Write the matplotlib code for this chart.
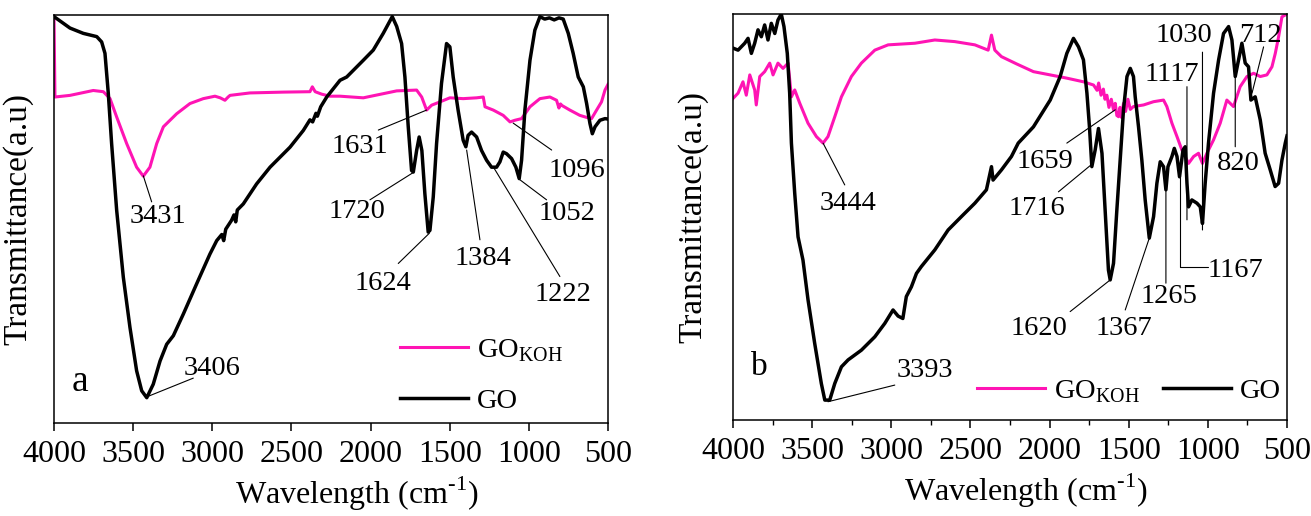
import matplotlib
matplotlib.use("Agg")
import matplotlib.pyplot as plt
from matplotlib.ticker import MultipleLocator

plt.rcParams['font.family'] = ['Liberation Serif', 'DejaVu Serif']
plt.rcParams['mathtext.fontset'] = 'custom'
plt.rcParams['mathtext.rm'] = 'Liberation Serif'

PINK = '#ff14b4'

# ---- panel a ----
go_a_wn = [4000, 3899, 3815, 3730, 3699, 3678, 3657, 3636, 3604, 3562, 3520, 3478, 3446, 3414,
           3373, 3330, 3288, 3246, 3183, 3099, 3015, 2972, 2955, 2940, 2928, 2915, 2878, 2863,
           2852, 2842, 2804, 2720, 2635, 2509, 2425, 2383, 2366, 2345, 2336, 2315, 2277, 2193,
           2151, 2046, 1983, 1920, 1863, 1835, 1804, 1783, 1762, 1741, 1730, 1709, 1693, 1676,
           1657, 1636, 1625, 1604, 1583, 1552, 1520, 1499, 1478, 1447, 1415, 1398, 1384, 1362,
           1330, 1299, 1267, 1236, 1204, 1183, 1162, 1141, 1109, 1082, 1061, 1046, 1025, 993,
           962, 930, 900, 870, 840, 810, 783, 751, 720, 688, 656, 635, 614, 599, 582, 551, 519, 500]
go_a_t = [0.996, 0.968, 0.955, 0.947, 0.934, 0.906, 0.808, 0.685, 0.521, 0.357, 0.234, 0.128, 0.079, 0.062,
          0.095, 0.152, 0.193, 0.214, 0.267, 0.341, 0.414, 0.447, 0.455, 0.462, 0.447, 0.475, 0.497, 0.510,
          0.493, 0.522, 0.537, 0.586, 0.627, 0.676, 0.717, 0.743, 0.738, 0.759, 0.752, 0.775, 0.799, 0.840,
          0.848, 0.889, 0.914, 0.955, 0.996, 0.972, 0.930, 0.848, 0.726, 0.619, 0.615, 0.668, 0.701, 0.668,
          0.562, 0.468, 0.472, 0.554, 0.685, 0.832, 0.930, 0.922, 0.848, 0.767, 0.693, 0.677, 0.705, 0.713,
          0.701, 0.668, 0.644, 0.627, 0.627, 0.640, 0.664, 0.660, 0.648, 0.627, 0.599, 0.644, 0.767, 0.889,
          0.963, 0.996, 0.990, 0.993, 0.988, 0.993, 0.990, 0.955, 0.906, 0.848, 0.824, 0.783, 0.734, 0.709,
          0.726, 0.742, 0.746, 0.745]

koh_a_wn = [4000, 3994, 3899, 3752, 3688, 3646, 3604, 3541, 3478, 3436, 3394, 3351, 3309, 3225, 3141,
            3057, 2983, 2950, 2920, 2900, 2888, 2762, 2551, 2383, 2368, 2350, 2309, 2257, 2193, 2046,
            1835, 1709, 1677, 1646, 1614, 1562, 1499, 1415, 1330, 1288, 1277, 1225, 1162, 1119, 1088,
            1046, 993, 930, 867, 825, 810, 800, 790, 741, 678, 635, 604, 572, 541, 519, 500]
koh_a_t = [0.996, 0.799, 0.803, 0.815, 0.812, 0.795, 0.750, 0.685, 0.627, 0.605, 0.627, 0.685, 0.726, 0.758, 0.783,
           0.795, 0.801, 0.797, 0.791, 0.799, 0.803, 0.809, 0.811, 0.812, 0.824, 0.812, 0.806, 0.801, 0.801, 0.797,
           0.814, 0.816, 0.799, 0.767, 0.779, 0.787, 0.797, 0.795, 0.797, 0.799, 0.775, 0.767, 0.754, 0.738, 0.742,
           0.746, 0.775, 0.795, 0.799, 0.791, 0.772, 0.782, 0.778, 0.767, 0.754, 0.749, 0.746, 0.767, 0.787, 0.816, 0.830]

# label, peak (wn, T), leader end (wn, T), text centre (wn, T)
labels_a = [
    ('3431', (3436, 0.606), (3383, 0.542), (3341, 0.506)),
    ('3406', (3414, 0.064), (3120, 0.110), (3004, 0.134)),
    ('1631', (1646, 0.767), (1951, 0.718), (2067, 0.677)),
    ('1720', (1734, 0.613), (2004, 0.547), (2088, 0.518)),
    ('1624', (1629, 0.465), (1825, 0.391), (1920, 0.342)),
    ('1384', (1393, 0.669), (1309, 0.449), (1288, 0.404)),
    ('1222', (1219, 0.624), (804, 0.359), (783, 0.314)),
    ('1052', (1056, 0.596), (888, 0.547), (761, 0.514)),
    ('1096', (1099, 0.735), (856, 0.669), (698, 0.620)),
]

# ---- panel b ----
go_b_wn = [4000, 3968, 3926, 3905, 3884, 3863, 3842, 3821, 3800, 3779, 3758, 3736, 3716, 3695, 3678,
           3657, 3642, 3631, 3610, 3589, 3558, 3526, 3484, 3442, 3420, 3389, 3357, 3315, 3273, 3189,
           3104, 3041, 2989, 2957, 2927, 2905, 2873, 2841, 2810, 2725, 2641, 2557, 2472, 2399, 2367,
           2357, 2304, 2241, 2198, 2102, 1996, 1933, 1891, 1849, 1817, 1786, 1764, 1748, 1733, 1712,
           1691, 1669, 1649, 1628, 1617, 1596, 1575, 1554, 1533, 1511, 1490, 1470, 1459, 1438, 1417,
           1396, 1370, 1343, 1322, 1301, 1280, 1265, 1252, 1227, 1212, 1195, 1179, 1157, 1143, 1132,
           1122, 1101, 1069, 1048, 1034, 1017, 996, 964, 932, 901, 869, 848, 827, 806, 785, 764, 743,
           728, 701, 669, 638, 606, 575, 553, 532, 511, 500]
go_b_t = [0.916, 0.911, 0.928, 0.940, 0.903, 0.928, 0.961, 0.944, 0.973, 0.936, 0.977, 0.952, 0.985, 1.000, 0.969,
          0.903, 0.805, 0.682, 0.558, 0.451, 0.394, 0.296, 0.189, 0.090, 0.049, 0.049, 0.090, 0.131, 0.148, 0.172,
          0.205, 0.238, 0.271, 0.256, 0.250, 0.304, 0.328, 0.361, 0.378, 0.419, 0.468, 0.501, 0.534, 0.567, 0.624,
          0.591, 0.616, 0.649, 0.682, 0.722, 0.788, 0.846, 0.903, 0.940, 0.919, 0.887, 0.805, 0.722, 0.624, 0.665,
          0.718, 0.657, 0.517, 0.369, 0.345, 0.386, 0.517, 0.640, 0.764, 0.846, 0.866, 0.846, 0.796, 0.722, 0.640,
          0.542, 0.448, 0.501, 0.583, 0.636, 0.624, 0.567, 0.624, 0.649, 0.669, 0.649, 0.599, 0.665, 0.673, 0.583,
          0.525, 0.542, 0.534, 0.525, 0.484, 0.583, 0.682, 0.805, 0.887, 0.952, 0.969, 0.936, 0.846, 0.887, 0.928,
          0.879, 0.870, 0.788, 0.796, 0.739, 0.657, 0.616, 0.575, 0.583, 0.640, 0.682, 0.700]

koh_b_wn = [4000, 3968, 3937, 3916, 3894, 3863, 3853, 3831, 3800, 3768, 3747, 3716, 3684, 3652, 3631,
            3610, 3578, 3526, 3473, 3431, 3400, 3357, 3315, 3252, 3189, 3104, 3020, 2851, 2725, 2599,
            2472, 2388, 2367, 2346, 2304, 2208, 2102, 1996, 1891, 1786, 1722, 1700, 1690, 1675, 1660,
            1650, 1638, 1625, 1610, 1596, 1585, 1575, 1564, 1555, 1545, 1533, 1520, 1505, 1490, 1470,
            1406, 1343, 1280, 1259, 1227, 1195, 1164, 1122, 1090, 1059, 1034, 1006, 964, 922, 880, 838,
            796, 753, 711, 669, 627, 595, 574, 553, 532, 500]
koh_b_t = [0.792, 0.805, 0.833, 0.800, 0.850, 0.813, 0.776, 0.846, 0.858, 0.879, 0.850, 0.879, 0.866, 0.879, 0.796,
           0.813, 0.780, 0.731, 0.698, 0.682, 0.698, 0.747, 0.796, 0.846, 0.879, 0.911, 0.924, 0.928, 0.936, 0.932,
           0.924, 0.911, 0.948, 0.911, 0.895, 0.877, 0.858, 0.850, 0.842, 0.833, 0.825, 0.812, 0.830, 0.800, 0.815,
           0.790, 0.800, 0.770, 0.790, 0.764, 0.780, 0.750, 0.747, 0.770, 0.745, 0.780, 0.760, 0.790, 0.765, 0.772,
           0.776, 0.784, 0.788, 0.772, 0.731, 0.698, 0.665, 0.632, 0.649, 0.657, 0.632, 0.657, 0.690, 0.731, 0.788, 0.772,
           0.821, 0.846, 0.854, 0.846, 0.850, 0.870, 0.903, 0.944, 0.993, 1.0]

labels_b = [
    ('3444', (3431, 0.682), (3294, 0.579), (3273, 0.534)),
    ('3393', (3400, 0.045), (2978, 0.086), (2788, 0.123)),
    ('1659', (1585, 0.764), (1891, 0.682), (2028, 0.636)),
    ('1716', (1739, 0.628), (1944, 0.562), (2080, 0.521)),
    ('1620', (1617, 0.345), (1870, 0.267), (2070, 0.226)),
    ('1367', (1370, 0.448), (1522, 0.271), (1533, 0.226)),
    ('1265', (1265, 0.567), (1265, 0.337), (1248, 0.304)),
    ('1117', (1132, 0.493), (1132, 0.821), (1227, 0.850)),
    ('1030', (1034, 0.468), (1034, 0.906), (1154, 0.948)),
    ('820', (827, 0.673), (827, 0.846), (806, 0.632)),
    ('712', (721, 0.805), (648, 0.919), (669, 0.948)),
]
# 1167 has an elbow leader
label_1167 = ('1167', (1179, 0.599), (996, 0.378), (827, 0.369))

fig = plt.figure(figsize=(13.11, 5.16), dpi=100)
ax1 = fig.add_axes([54 / 1311, 93 / 516, 554 / 1311, 408 / 516])
ax2 = fig.add_axes([733 / 1311, 96 / 516, 554 / 1311, 406 / 516])

ax1.plot(koh_a_wn, koh_a_t, color=PINK, lw=2.2, label=r'GO$_{\mathregular{KOH}}$')
ax1.plot(go_a_wn, go_a_t, color='black', lw=2.5, label='GO')
ax2.plot(koh_b_wn, koh_b_t, color=PINK, lw=2.2, label=r'GO$_{\mathregular{KOH}}$')
ax2.plot(go_b_wn, go_b_t, color='black', lw=2.5, label='GO')

line_kw = dict(arrowstyle='-', lw=0.8, color='black', shrinkA=0, shrinkB=0)
FS = 20.5

for lab, p, q, t in labels_a:
    ax1.annotate('', xy=p, xytext=q, arrowprops=line_kw)
    ax1.text(t[0], t[1], lab, ha='center', va='center', fontsize=FS)
for lab, p, q, t in labels_b:
    ax2.annotate('', xy=p, xytext=q, arrowprops=line_kw)
    ax2.text(t[0], t[1], lab, ha='center', va='center', fontsize=FS)
lab, p, q, t = label_1167
ax2.annotate('', xy=p, xytext=q,
             arrowprops=dict(line_kw, connectionstyle='angle,angleA=0,angleB=90,rad=0'))
ax2.text(t[0], t[1], lab, ha='center', va='center', fontsize=FS)

ax1.text(3836, 0.101, 'a', ha='center', va='center', fontsize=27)
ax2.text(3831, 0.131, 'b', ha='center', va='center', fontsize=24)

ax1.legend(loc='lower left', bbox_to_anchor=(0.578, -0.04), frameon=False, fontsize=20.5,
           handlelength=2.4, handletextpad=0.3, labelspacing=0.85)
ax2.legend(loc='lower left', bbox_to_anchor=(0.394, -0.025), frameon=False, fontsize=20.5, ncol=2,
           handlelength=2.4, handletextpad=0.3, columnspacing=0.8)

for ax in (ax1, ax2):
    ax.set_xlim(4000, 500)
    ax.set_ylim(0, 1.0)
    ax.set_yticks([])
    ax.xaxis.set_major_locator(MultipleLocator(500))
    ax.tick_params(axis='x', direction='out', length=6, width=1.1, labelsize=23, pad=6)
    ax.set_xlabel('Wavelength (cm$^{\\mathregular{\u2010}1}$)', fontsize=23, labelpad=4)
    for s in ax.spines.values():
        s.set_linewidth(1.1)

ax1.set_ylabel('Transmittance(a.u)', fontsize=24, labelpad=15)
ax2.set_ylabel('Transmittance(a.u)', fontsize=24, labelpad=18)
ax1.xaxis.label.set_x(0.547)
ax2.xaxis.label.set_x(0.529)

ax2.xaxis.set_minor_locator(MultipleLocator(250))
ax2.tick_params(axis='x', which='minor', direction='out', length=3.5, width=1.0)

fig.savefig('out.png', dpi=100)
